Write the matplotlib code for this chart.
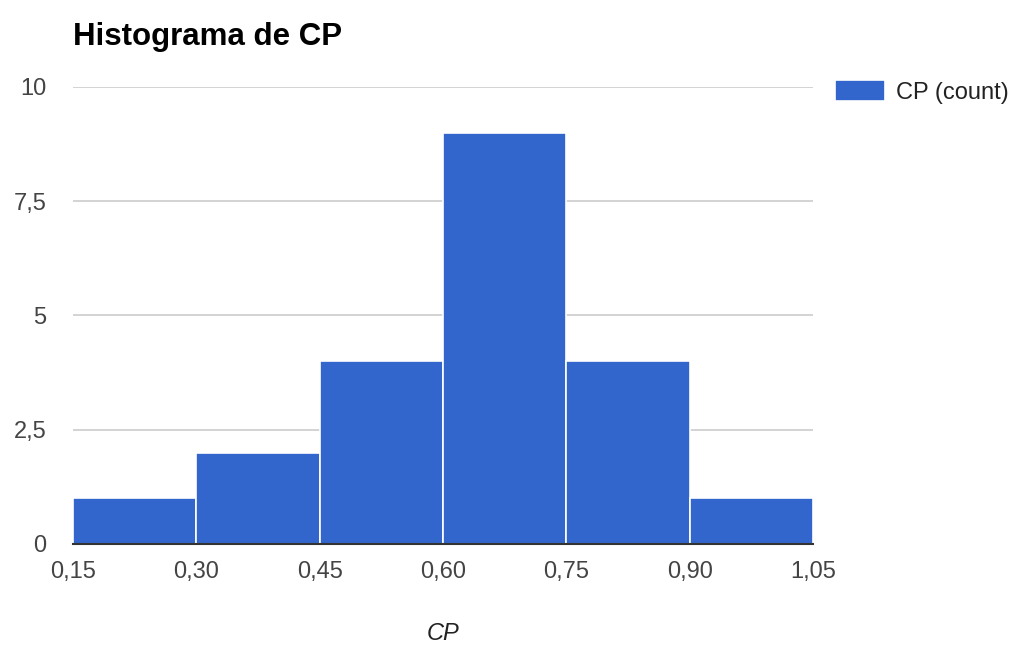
import matplotlib
matplotlib.use("Agg")
import matplotlib.pyplot as plt
from matplotlib.ticker import FuncFormatter

plt.rcParams['font.family'] = ['Liberation Sans', 'DejaVu Sans']

# histogram data
bin_edges = [0.15, 0.30, 0.45, 0.60, 0.75, 0.90, 1.05]
counts = [1, 2, 4, 9, 4, 1]
y_ticks = [0, 2.5, 5, 7.5, 10]

BAR = '#3366cc'
TXT = '#444444'

fig = plt.figure(figsize=(10.25, 6.53), dpi=100)
ax = fig.add_axes([73 / 1025, 109 / 653, 740 / 1025, 457 / 653])

lefts = bin_edges[:-1]
widths = [b - a for a, b in zip(bin_edges[:-1], bin_edges[1:])]
ax.bar(lefts, counts, width=widths, align='edge', color=BAR,
       edgecolor='white', linewidth=1.2, label='CP (count)', zorder=2)

ax.set_xlim(bin_edges[0], bin_edges[-1])
ax.set_ylim(0, 10)
ax.set_xticks(bin_edges)
ax.set_yticks(y_ticks)


def comma_fmt(decimals):
    def f(v, pos):
        s = f"{v:.{decimals}f}" if decimals else (f"{v:g}")
        return s.replace('.', ',')
    return f


ax.xaxis.set_major_formatter(FuncFormatter(comma_fmt(2)))
ax.yaxis.set_major_formatter(FuncFormatter(comma_fmt(0)))

ax.tick_params(axis='both', length=0, labelsize=17, labelcolor=TXT)
ax.tick_params(axis='x', pad=12)
ax.tick_params(axis='y', pad=19)

ax.grid(axis='y', color='#cccccc', linewidth=1.2, zorder=0)
ax.set_axisbelow(True)
for side in ['top', 'right', 'left']:
    ax.spines[side].set_visible(False)
ax.spines['bottom'].set_color('#333333')
ax.spines['bottom'].set_linewidth(1.5)
ax.spines['bottom'].set_zorder(3)

ax.set_xlabel('CP', fontsize=17, style='italic', color='#222222', labelpad=28)

fig.text(73 / 1025, 1 - 37 / 653, 'Histograma de CP', fontsize=22.5,
         fontweight='bold', color='black', va='center', ha='left')

leg = ax.legend(loc='upper left', bbox_to_anchor=(835 / 1025, 1 - 80 / 653),
                bbox_transform=fig.transFigure, frameon=False, fontsize=17,
                handlelength=2.1, handleheight=1.0, handletextpad=0.5,
                borderpad=0, borderaxespad=0)
for t in leg.get_texts():
    t.set_color('#222222')

fig.savefig('out.png', dpi=100)
